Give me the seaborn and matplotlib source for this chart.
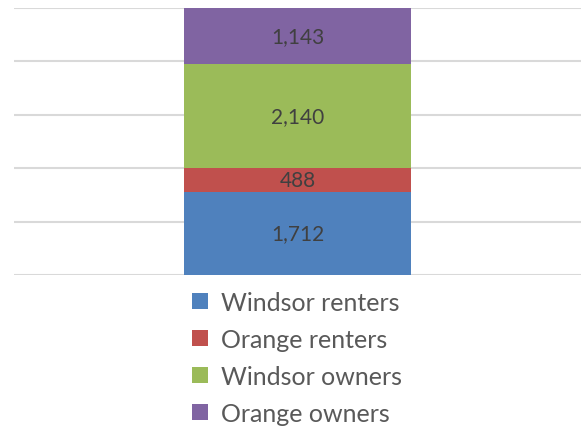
import matplotlib
matplotlib.use("Agg")
import matplotlib.pyplot as plt
from matplotlib.patches import Patch
import numpy as np
import seaborn as sns

# data
series = ["Windsor renters", "Orange renters", "Windsor owners", "Orange owners"]
values = [1712, 488, 2140, 1143]
colors = ["#4f81bd", "#c0504d", "#9bbb59", "#8064a2"]

sns.set_style("white")
plt.rcParams["font.family"] = ["Lato", "DejaVu Sans"]

fig = plt.figure(figsize=(5.81, 4.27), dpi=100)
ax = fig.add_axes([14 / 581, 151 / 427, 567 / 581, 267 / 427])

# 100% stacked column
total = sum(values)
shares = [v / total for v in values]
bottoms = np.concatenate([[0], np.cumsum(shares)[:-1]])

for name, share, bot, col, val in zip(series, shares, bottoms, colors, values):
    sns.barplot(x=["all"], y=[share], bottom=bot, color=col, width=0.4,
                saturation=1, linewidth=0, ax=ax)
    ax.text(0, bot + share / 2, f"{val:,}", ha="center", va="center",
            fontsize=15, color="#404040")

ax.set_ylim(0, 1)
ax.set_xlim(-0.5, 0.5)
ax.set_yticks(np.arange(0, 1.01, 0.2))
ax.grid(axis="y", color="#d9d9d9", linewidth=1.5)
ax.set_axisbelow(True)
ax.tick_params(left=False, bottom=False, labelleft=False, labelbottom=False)
ax.set_xlabel("")
ax.set_ylabel("")
for s in ax.spines.values():
    s.set_visible(False)

handles = [Patch(facecolor=c, edgecolor="none") for c in colors]
leg = fig.legend(handles, series, loc="upper left", bbox_to_anchor=(192 / 581, 1 - 292 / 427),
                 frameon=False, fontsize=18, handlelength=0.64, handleheight=0.64,
                 handletextpad=0.5, labelspacing=0.56, borderpad=0, borderaxespad=0)
for t in leg.get_texts():
    t.set_color("#595959")

fig.savefig("out.png", dpi=100)
